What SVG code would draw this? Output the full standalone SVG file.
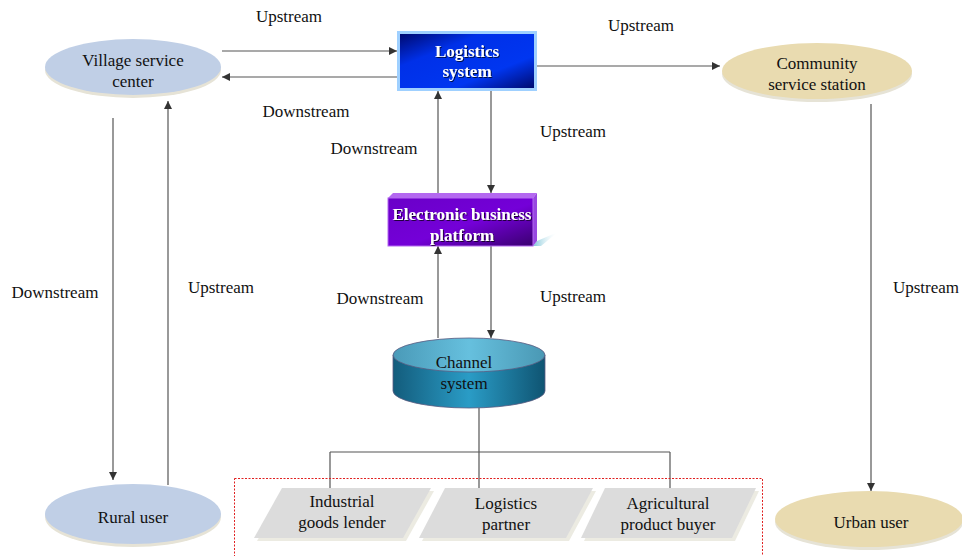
<svg xmlns="http://www.w3.org/2000/svg" width="962" height="556" viewBox="0 0 962 556">
<defs>
<linearGradient id="gLog" x1="0" y1="0" x2="1" y2="1">
<stop offset="0" stop-color="#000a70"/><stop offset="0.3" stop-color="#0030e8"/><stop offset="0.7" stop-color="#0036f0"/><stop offset="1" stop-color="#000a70"/>
</linearGradient>
<linearGradient id="gEbp" x1="0" y1="0" x2="1" y2="1">
<stop offset="0" stop-color="#6a00c8"/><stop offset="0.55" stop-color="#7400d8"/><stop offset="1" stop-color="#3a0070"/>
</linearGradient>
<linearGradient id="gCylB" x1="0" y1="0" x2="1" y2="0">
<stop offset="0" stop-color="#135c7c"/><stop offset="0.5" stop-color="#2a9cc6"/><stop offset="1" stop-color="#0f5472"/>
</linearGradient>
<linearGradient id="gCylT" x1="0" y1="0" x2="1" y2="0">
<stop offset="0" stop-color="#4a9ab8"/><stop offset="0.5" stop-color="#66c0de"/><stop offset="1" stop-color="#4a98b4"/>
</linearGradient>
<linearGradient id="gShadow" x1="0" y1="0" x2="1" y2="0">
<stop offset="0" stop-color="#7cc4d8"/><stop offset="1" stop-color="#ffffff" stop-opacity="0"/>
</linearGradient>
<marker id="arr" viewBox="0 0 10 10" refX="10" refY="5" markerWidth="8" markerHeight="8" markerUnits="userSpaceOnUse" orient="auto">
<path d="M0,0 L10,5 L0,10 z" fill="#333"/>
</marker>
<filter id="ts" x="-10%" y="-10%" width="120%" height="130%">
<feDropShadow dx="1" dy="1" stdDeviation="0.6" flood-color="#000" flood-opacity="0.7"/>
</filter>
</defs>
<style>
text{font-family:'Liberation Serif','Times New Roman',serif;fill:#111;font-size:17px;}
.m{text-anchor:middle;}
.wt{font-weight:bold;fill:#fff;text-anchor:middle;}
.c{stroke:#555;stroke-width:1.2;fill:none;}
.a{stroke:#555;stroke-width:1.2;fill:none;marker-end:url(#arr);}
.blue{fill:#c0cfe6;}
.tan{fill:#e9dbb0;}
.sh{fill:#e6e3d6;}
.para{fill:#dcdcdc;}
.parash{fill:#ecebe2;}
</style>

<g id="connectors">
<line class="a" x1="222" y1="51" x2="397" y2="51"/>
<line class="a" x1="397" y1="77" x2="222" y2="77"/>
<line class="a" x1="537" y1="66" x2="720" y2="66"/>
<line class="a" x1="491" y1="91" x2="491" y2="193"/>
<line class="a" x1="438" y1="193" x2="438" y2="91"/>
<line class="a" x1="491" y1="246" x2="491" y2="338"/>
<line class="a" x1="438" y1="338" x2="438" y2="246"/>
<line class="a" x1="113" y1="118" x2="113" y2="480"/>
<line class="a" x1="168" y1="485" x2="168" y2="101"/>
<line class="a" x1="871" y1="104" x2="871" y2="491"/>
<path class="c" d="M479,408 V452 M330,452 H670 M330,452 V490 M479,452 V490 M670,452 V504"/>
<rect x="234.5" y="478.5" width="528" height="80" fill="none" stroke="#e02020" stroke-width="1" stroke-dasharray="2,1.5"/>
</g>

<g id="labels">
<text class="m" x="289" y="22">Upstream</text>
<text class="m" x="306" y="117">Downstream</text>
<text class="m" x="641" y="31">Upstream</text>
<text class="m" x="573" y="137">Upstream</text>
<text class="m" x="374" y="154">Downstream</text>
<text class="m" x="573" y="302">Upstream</text>
<text class="m" x="380" y="304">Downstream</text>
<text class="m" x="55" y="298">Downstream</text>
<text class="m" x="221" y="293">Upstream</text>
<text class="m" x="926" y="293">Upstream</text>
</g>

<g id="village">
<ellipse class="sh" cx="133" cy="70" rx="88" ry="28"/>
<ellipse class="blue" cx="133" cy="67" rx="88" ry="28"/>
<text class="m" x="133" y="66">Village service</text>
<text class="m" x="133" y="87">center</text>
</g>

<g id="community">
<ellipse class="sh" cx="817" cy="74" rx="95" ry="28"/>
<ellipse class="tan" cx="817" cy="71" rx="95" ry="28"/>
<text class="m" x="817" y="69">Community</text>
<text class="m" x="817" y="90">service station</text>
</g>

<g id="rural">
<ellipse class="sh" cx="133" cy="517" rx="88" ry="30"/>
<ellipse class="blue" cx="133" cy="514" rx="88" ry="30"/>
<text class="m" x="133" y="523">Rural user</text>
</g>

<g id="urban">
<ellipse class="sh" cx="869" cy="522" rx="94" ry="28"/>
<ellipse class="tan" cx="869" cy="519" rx="94" ry="28"/>
<text class="m" x="871" y="528">Urban user</text>
</g>

<g id="logistics">
<rect x="397" y="31" width="140" height="60" fill="#9fd0ff"/>
<rect x="400" y="34" width="134" height="54" fill="url(#gLog)"/>
<text class="wt" x="467" y="57" filter="url(#ts)">Logistics</text>
<text class="wt" x="467" y="77" filter="url(#ts)">system</text>
</g>

<g id="ebp">
<polygon points="533,246 537,241 558,232 541,246" fill="url(#gShadow)"/>
<polygon points="388,198 393,193 537,193 533,198" fill="#b468f0"/>
<polygon points="533,198 537,193 537,241 533,246" fill="#9848e0"/>
<rect x="388" y="198" width="145" height="48" fill="url(#gEbp)" stroke="#b468f0" stroke-width="1"/>
<text class="wt" x="462" y="220" filter="url(#ts)">Electronic business</text>
<text class="wt" x="462" y="241" filter="url(#ts)">platform</text>
</g>

<g id="channel">
<path d="M393,355 V391 A76,17 0 0 0 545,391 V355 Z" fill="url(#gCylB)" stroke="#5a5a80" stroke-width="0.8"/>
<ellipse cx="469" cy="355" rx="76" ry="17" fill="url(#gCylT)" stroke="#5a5a80" stroke-width="0.8"/>
<text class="m" x="464" y="368">Channel</text>
<text class="m" x="464" y="389">system</text>
</g>

<g id="lender">
<polygon points="285,491 434,491 406,541 257,541" class="parash"/>
<polygon points="282,488 431,488 403,538 254,538" class="para"/>
<text class="m" x="342" y="507">Industrial</text>
<text class="m" x="342" y="528">goods lender</text>
</g>

<g id="partner">
<polygon points="448,491 596,491 569,541 422,541" class="parash"/>
<polygon points="445,488 593,488 566,538 419,538" class="para"/>
<text class="m" x="506" y="509">Logistics</text>
<text class="m" x="506" y="530">partner</text>
</g>

<g id="buyer">
<polygon points="608,491 759,491 735,541 584,541" class="parash"/>
<polygon points="605,488 756,488 732,538 581,538" class="para"/>
<text class="m" x="668" y="509">Agricultural</text>
<text class="m" x="668" y="530">product buyer</text>
</g>
</svg>
